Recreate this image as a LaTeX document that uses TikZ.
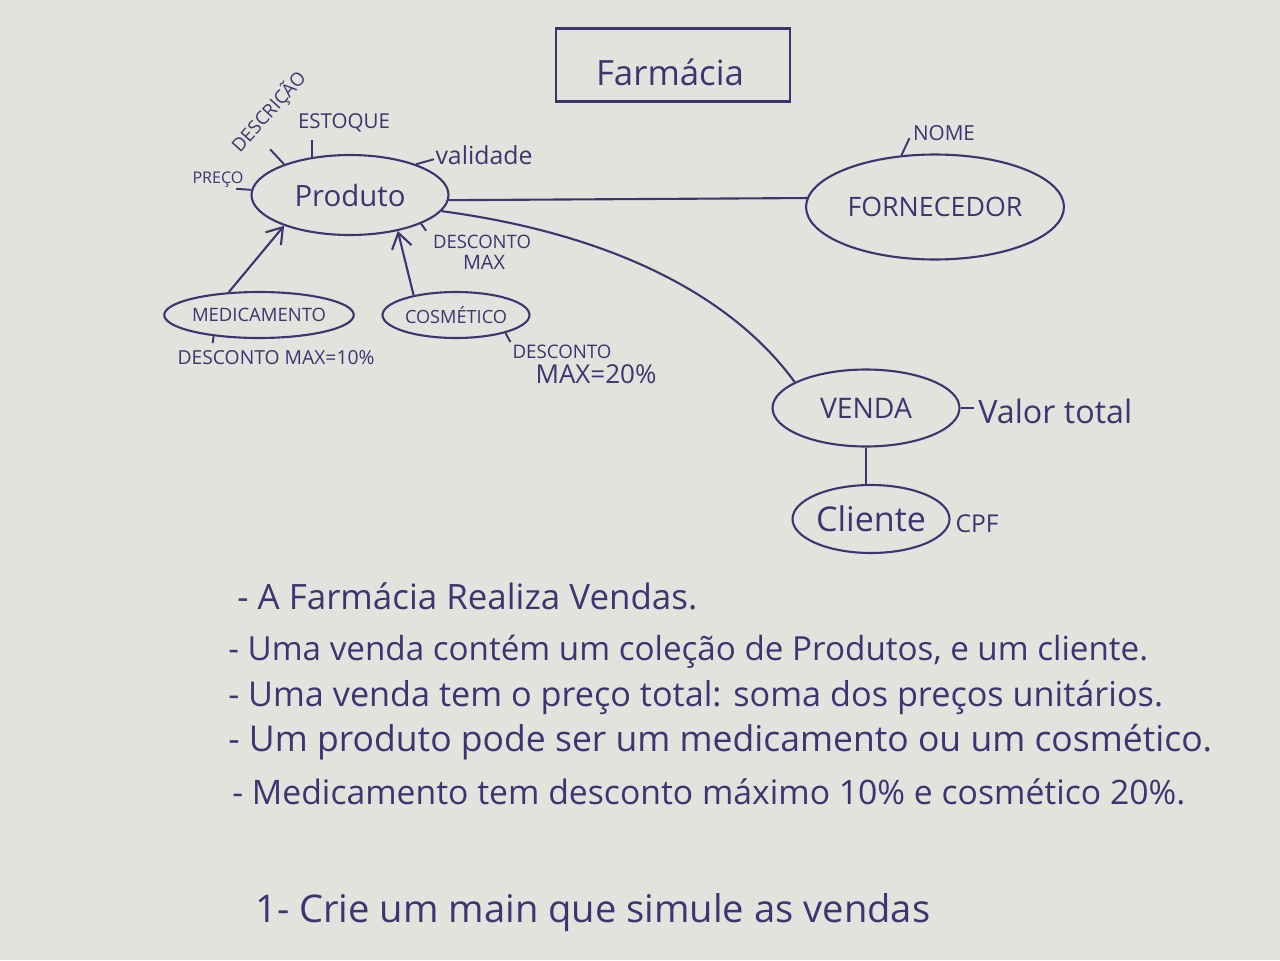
\documentclass[tikz,border=0pt]{standalone}
\usepackage{fontspec}
\setmainfont{Open Sans}
\usepackage{graphicx}
\usetikzlibrary{shapes.geometric,arrows.meta}
\definecolor{paper}{HTML}{E4E2DD}
\definecolor{ink}{HTML}{3B3672}
\newcommand{\hw}[2]{\resizebox{#1}{!}{#2}}
\begin{document}
\begin{tikzpicture}[x=0.02cm,y=-0.02cm,
  every node/.style={text=ink, inner sep=0pt},
  ent/.style={draw=ink, ellipse, line width=1.2pt},
  link/.style={draw=ink, line width=1.2pt},
  tick/.style={draw=ink, line width=1.1pt},
  isa/.style={link, -{Straight Barb[length=3mm,width=4mm]}},
  ]
\fill[paper] (0,0) rectangle (1280,960);
\useasboundingbox (0,0) rectangle (1280,960);

% title
\node[draw=ink, line width=1.2pt, minimum width=4.68cm, minimum height=1.46cm] (title) at (673,65) {};
\node (titletxt) at (670,72) {\hw{2.96cm}{Farmácia}};

% entities
\node[ent, minimum width=3.94cm, minimum height=1.6cm] (prod) at (350,195) {\hw{2.22cm}{Produto}};
\node[ent, minimum width=5.16cm, minimum height=2.1cm] (forn) at (935,207) {\hw{3.5cm}{FORNECEDOR}};
\node[ent, minimum width=3.74cm, minimum height=1.54cm] (venda) at (866,408) {\hw{1.84cm}{VENDA}};
\node[ent, minimum width=3.14cm, minimum height=1.36cm] (cli) at (871,519) {\hw{2.2cm}{Cliente}};
\node[ent, minimum width=3.5cm, minimum height=0.92cm] (med) at (259,315) {\hw{2.68cm}{MEDICAMENTO}};
\node[ent, minimum width=2.94cm, minimum height=0.92cm] (cos) at (456,315) {\hw{2.04cm}{COSMÉTICO}};

% attribute labels
\node (preco) at (218,180) {\hw{1.02cm}{PREÇO}};
\node (estoque) at (344,123) {\hw{1.84cm}{ESTOQUE}};
\node[rotate=48] (descr) at (269,112) {\hw{2.0cm}{DESCRIÇÃO}};
\node (valid) at (484,155) {\hw{1.94cm}{validade}};
\node (dmax1) at (482,242) {\hw{1.96cm}{DESCONTO}};
\node (dmax2) at (484,262) {\hw{0.84cm}{MAX}};
\node (nome) at (944,133) {\hw{1.24cm}{NOME}};
\node[anchor=west] (vtotal) at (978,411) {\hw{3.08cm}{Valor total}};
\node (cpf) at (977,524) {\hw{0.86cm}{CPF}};
\node (dmed) at (276,358) {\hw{3.94cm}{DESCONTO MAX=10\%}};
\node (dcos1) at (562,352) {\hw{1.98cm}{DESCONTO}};
\node (dcos2) at (596,374) {\hw{2.42cm}{MAX=20\%}};

% attribute ticks
\draw[tick] (prod.177) -- ++(-15,-1);
\draw[tick] (prod.155) -- ++(-14,-15);
\draw[tick] (prod.135) -- ++(0,-17);
\draw[tick] (prod.25) -- ++(18,-5);
\draw[tick] (prod.-22) -- ++(5,7);
\draw[tick] (forn.123) -- ++(8,-17);
\draw[tick] (venda.east) -- ++(13,0);
\draw[tick] (med.205) -- ++(-1,7);
\draw[tick] (cos.-20) -- ++(5,9);

% relationships
\draw[link] (prod.-3) -- (forn.176);
\draw[link] (prod.-10) .. controls (620,235) and (735,300) .. (venda.160);
\draw[link] (venda.south) -- (venda.south |- cli.north);
\draw[isa] (med.143) -- (prod.205);
\draw[isa] (cos.155) -- (prod.-37);

% text
\node[anchor=west] (l1) at (237,596) {\hw{9.2cm}{- A Farmácia Realiza Vendas.}};
\node[anchor=west] (l2) at (228,652) {\hw{18.4cm}{- Uma venda contém um coleção de Produtos, e um cliente.}};
\node[anchor=west] (l3) at (228,697) {\hw{18.7cm}{- Uma venda tem o preço total: soma dos preços unitários.}};
\node[anchor=west] (l4) at (228,742) {\hw{19.68cm}{- Um produto pode ser um medicamento ou um cosmético.}};
\node[anchor=west] (l5) at (232,792) {\hw{19.06cm}{- Medicamento tem desconto máximo 10\% e cosmético 20\%.}};
\node[anchor=west] (l6) at (255,913) {\hw{13.5cm}{1- Crie um main que simule as vendas}};
\end{tikzpicture}
\end{document}
